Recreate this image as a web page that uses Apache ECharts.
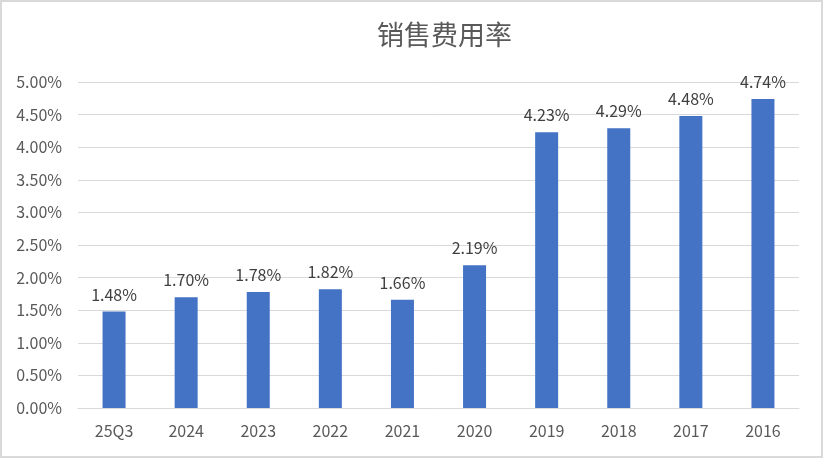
<!DOCTYPE html>
<html><head><meta charset="utf-8">
<script src="https://cdn.jsdelivr.net/npm/echarts@6/dist/echarts.min.js"></script>
<style>html,body{margin:0;padding:0;background:#fff}#c{width:823px;height:458px;box-sizing:border-box;border:2px solid #d9d9d9}</style>
</head><body><div id="c"></div>
<script>
const categories = ['25Q3','2024','2023','2022','2021','2020','2019','2018','2017','2016'];
const values = [1.48,1.70,1.78,1.82,1.66,2.19,4.23,4.29,4.48,4.74];
const chart = echarts.init(document.getElementById('c'));
const font = '"Noto Sans CJK SC", "Microsoft YaHei", sans-serif';
chart.setOption({
  animation:false,
  title:{text:'销售费用率',left:370,top:14,textStyle:{fontFamily:font,fontSize:27,fontWeight:'normal',color:'#595959'}},
  grid:{left:76,right:22,top:80,bottom:48},
  xAxis:{type:'category',data:categories,axisTick:{show:false},
    axisLine:{lineStyle:{color:'#d9d9d9',width:1}},
    axisLabel:{fontFamily:font,fontSize:16,color:'#595959',margin:15}},
  yAxis:{type:'value',min:0,max:5,interval:0.5,axisLine:{show:false},axisTick:{show:false},
    splitLine:{lineStyle:{color:'#d9d9d9',width:1}},
    axisLabel:{fontFamily:font,fontSize:16,color:'#595959',margin:16,formatter:v=>v.toFixed(2)+'%'}},
  series:[{type:'bar',data:values,barWidth:23,itemStyle:{color:'#4472c4'},
    label:{show:true,position:'top',distance:9,fontFamily:font,fontSize:16,color:'#404040',formatter:p=>p.value.toFixed(2)+'%'}}]
});
</script></body></html>
